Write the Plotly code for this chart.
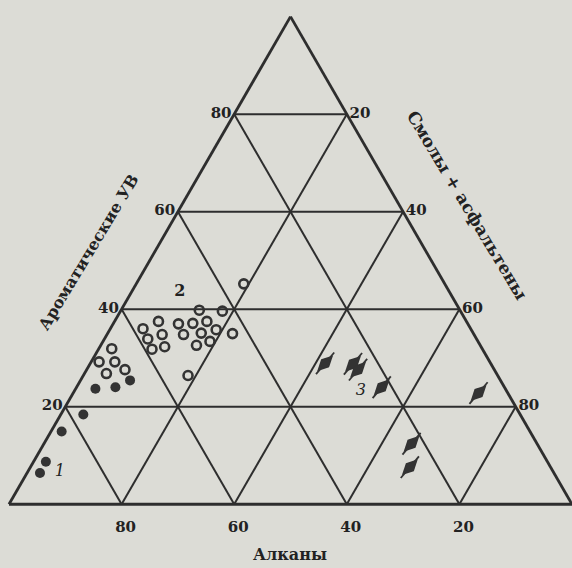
import plotly.graph_objects as go

# Ternary composition, %: aromatic HC (top), alkanes (bottom-left), resins+asphaltenes (bottom-right)
# Group 1 - filled circles
G1_AROM = [8.7, 6.4, 14.9, 18.4, 23.7, 24.0, 25.4]
G1_ALK = [89.1, 91.3, 83.2, 77.6, 72.8, 69.1, 65.8]
G1_RES = [2.2, 2.3, 1.9, 4.0, 3.5, 6.9, 8.8]

# Group 2 - open circles
G2_AROM = [31.9, 29.2, 29.2, 26.8, 27.6,
           45.2, 39.8, 39.6, 37.5, 36.0, 33.9, 31.8, 34.8, 32.3, 37.0,
           34.8, 37.1, 37.5, 35.1, 35.8, 32.6, 33.4, 35.0, 26.4]
G2_ALK = [65.8, 69.4, 66.6, 69.3, 65.6,
          35.7, 46.3, 42.3, 54.7, 58.2, 58.4, 58.7, 55.4, 56.2, 51.4,
          51.6, 48.8, 46.1, 48.3, 45.3, 50.4, 47.6, 42.8, 55.0]
G2_RES = [2.3, 1.4, 4.2, 3.9, 6.8,
          19.1, 13.9, 18.1, 7.8, 5.8, 7.7, 9.5, 9.8, 11.5, 11.6,
          13.6, 14.1, 16.4, 16.6, 18.9, 17.0, 19.0, 22.2, 18.6]

# Group 3 - "comet" marks
G3_AROM = [28.9, 28.8, 27.6, 24.0, 22.8, 12.4, 7.6]
G3_ALK = [29.4, 24.5, 24.2, 21.8, 5.2, 22.3, 25.0]
G3_RES = [41.7, 46.7, 48.2, 54.2, 72.0, 65.3, 67.4]

# Group numbers (1 and 3 italic, 2 bold)
LABELS_ITALIC = ["1", "3"]
LABEL_IT_AROM = [6.7, 23.2]
LABEL_IT_ALK = [87.6, 25.9]
LABEL_IT_RES = [5.7, 50.9]

LABELS_BOLD = ["2"]
LABEL_BD_AROM = [43.5]
LABEL_BD_ALK = [47.9]
LABEL_BD_RES = [8.6]

TICKS = [20, 40, 60, 80]

PAPER = "#dcdcd6"
INK = "#2e2e2e"
SERIF = "DejaVu Serif"


def make_axis(ticklen=0):
    return dict(
        tickmode="array", tickvals=TICKS, ticktext=[str(t) for t in TICKS],
        showgrid=True, gridcolor=INK, gridwidth=1.6,
        linecolor=INK, linewidth=2.8, showline=True,
        ticks="outside" if ticklen else "", ticklen=ticklen, tickcolor=PAPER,
        tickfont=dict(family=SERIF, size=15, color="#222", weight="bold"),
        title=dict(text=""),
    )


fig = go.Figure()

fig.add_trace(go.Scatterternary(
    a=G1_AROM, b=G1_ALK, c=G1_RES, mode="markers",
    marker=dict(symbol="circle", size=10, color="#333"), showlegend=False))

fig.add_trace(go.Scatterternary(
    a=G2_AROM, b=G2_ALK, c=G2_RES, mode="markers",
    marker=dict(symbol="circle-open", size=9, color="#333", line=dict(width=2.6)),
    showlegend=False))

# thin stem + blob for group 3
fig.add_trace(go.Scatterternary(
    a=G3_AROM, b=G3_ALK, c=G3_RES, mode="markers",
    marker=dict(symbol="line-ne", size=20, angle=-5, line=dict(width=1.8, color="#333")),
    showlegend=False))
fig.add_trace(go.Scatterternary(
    a=G3_AROM, b=G3_ALK, c=G3_RES, mode="markers",
    marker=dict(symbol="diamond-tall", size=16, angle=45, color="#333"),
    showlegend=False))
fig.add_trace(go.Scatterternary(
    a=G3_AROM, b=G3_ALK, c=G3_RES, mode="markers",
    marker=dict(symbol="circle", size=9, color="#333"),
    showlegend=False))

fig.add_trace(go.Scatterternary(
    a=LABEL_IT_AROM, b=LABEL_IT_ALK, c=LABEL_IT_RES, mode="text", text=LABELS_ITALIC,
    textfont=dict(family=SERIF, size=16, color="#222", style="italic"),
    showlegend=False))
fig.add_trace(go.Scatterternary(
    a=LABEL_BD_AROM, b=LABEL_BD_ALK, c=LABEL_BD_RES, mode="text", text=LABELS_BOLD,
    textfont=dict(family=SERIF, size=16, color="#222", weight="bold"),
    showlegend=False))

fig.update_layout(
    width=572, height=568,
    margin=dict(l=0, r=0, t=0, b=0),
    paper_bgcolor=PAPER,
    ternary=dict(
        sum=100,
        bgcolor=PAPER,
        domain=dict(x=[9 / 572, 1.0], y=[63 / 568, 0.972]),
        aaxis=make_axis(), baxis=make_axis(ticklen=8), caxis=make_axis(),
    ),
)

title_font = dict(family=SERIF, size=16, color="#222", weight="bold")
fig.add_annotation(x=88 / 572, y=1 - 252 / 568, xref="paper", yref="paper",
                   xanchor="center", yanchor="middle",
                   text="Ароматические УВ", textangle=-59, showarrow=False, font=title_font)
fig.add_annotation(x=467 / 572, y=1 - 205 / 568, xref="paper", yref="paper",
                   xanchor="center", yanchor="middle",
                   text="Смолы + асфальтены", textangle=59, showarrow=False,
                   font=dict(family=SERIF, size=17, color="#222", weight="bold"))
fig.add_annotation(x=290 / 572, y=1 - 554 / 568, xref="paper", yref="paper",
                   xanchor="center", yanchor="middle",
                   text="Алканы", showarrow=False, font=title_font)

fig.write_html("out.html", config={"displayModeBar": False},
               post_script="document.body.style.margin='0';")
